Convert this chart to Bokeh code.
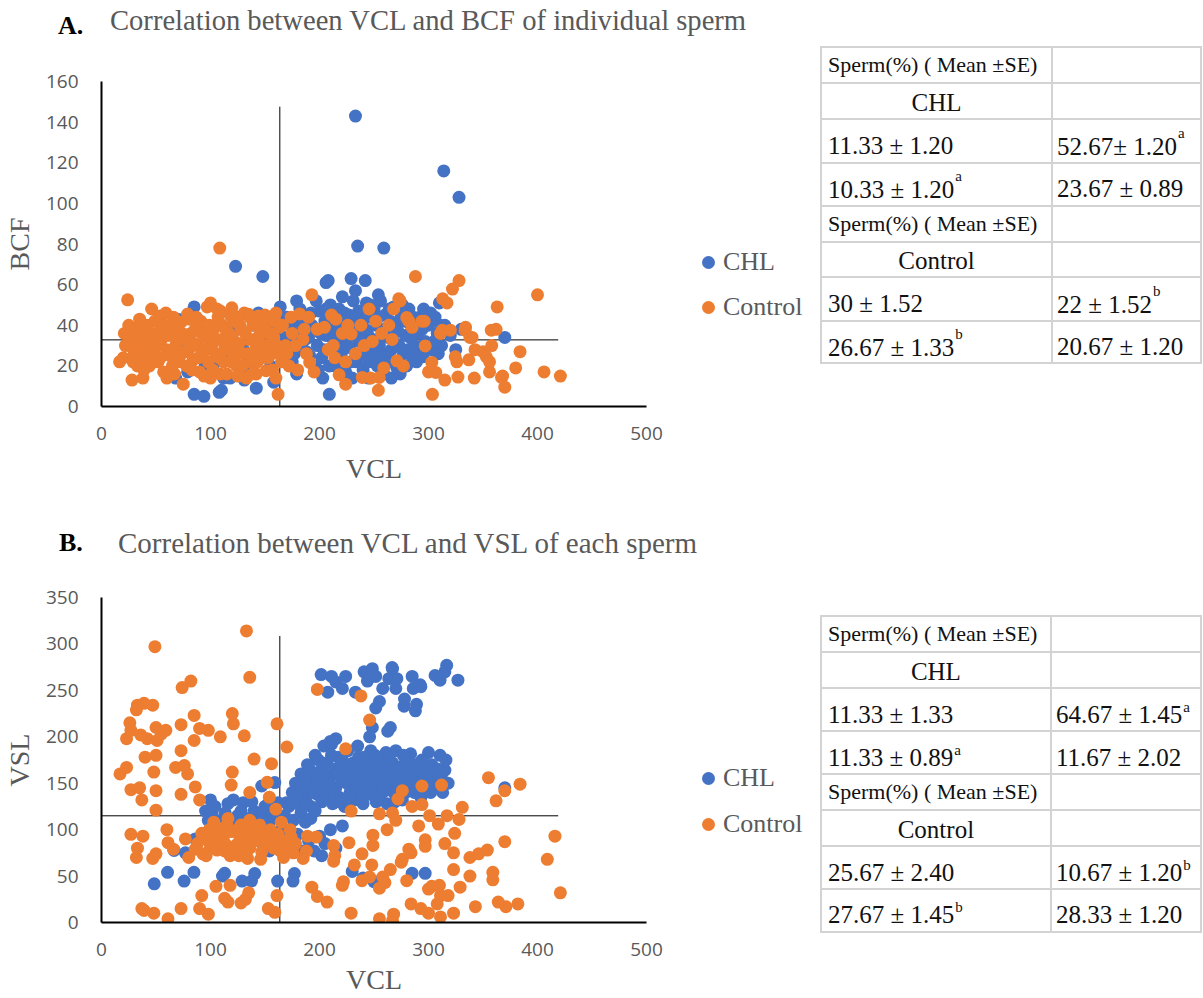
from bokeh.plotting import figure
from bokeh.models import Range1d, SingleIntervalTicker, Div
from bokeh.layouts import column, row
from bokeh.embed import file_html
from bokeh.resources import INLINE

# ---------------- Panel A: VCL vs BCF of individual sperm ----------------
chl_a = [
    (233, 143), (314, 116), (328, 103), (235, 79), (259, 78), (123, 69), (148, 64),
    (206, 61), (208, 62), (229, 63), (242, 62), (233, 57), (254, 55), (221, 54), (179, 52),
    (85, 6), (94, 5), (108, 7), (110, 8), (142, 9), (209, 6),
    (70, 43), (85, 49), (79, 17), (68, 14), (112, 14), (118, 14), (131, 13), (144, 46),
    (164, 49), (158, 12), (90, 40), (100, 30), (105, 22), (120, 36), (130, 28), (140, 40),
    (150, 33), (155, 20), (95, 20), (125, 44), (135, 18), (145, 26), (115, 25), (160, 38), (75, 30),
    (170, 44), (172, 30), (175, 22), (178, 36), (179, 16), (182, 48), (185, 40), (188, 27),
    (190, 34), (192, 46), (195, 20), (196, 38), (198, 30), (200, 47), (202, 24), (203, 14),
    (205, 42), (206, 35), (208, 28), (210, 50), (212, 44), (214, 20), (215, 37), (217, 31),
    (218, 48), (220, 26), (222, 40), (224, 17), (225, 34), (227, 45), (228, 29), (230, 14),
    (231, 52), (232, 38), (234, 22), (236, 47), (237, 32), (239, 42), (240, 18), (241, 27),
    (243, 51), (244, 36), (245, 14), (246, 44), (248, 25), (249, 33), (250, 48), (252, 40),
    (253, 20), (255, 30), (256, 52), (258, 38), (259, 16), (260, 45), (262, 26), (263, 34),
    (265, 42), (266, 14), (267, 22), (268, 49), (270, 31), (272, 37), (274, 16), (275, 44),
    (277, 26), (279, 35), (280, 20), (282, 48), (284, 40), (285, 24.5), (287, 30), (290, 36),
    (292, 44), (295, 24.5), (295.5, 48), (297, 32), (300, 40), (303, 28), (306, 44), (308, 36),
    (310, 51), (312, 30), (315, 40), (320, 35), (325, 28), (330, 38), (370, 34),
    (183, 30), (186, 45), (191, 25), (193, 40), (197, 52), (199, 18), (201, 36), (204, 28),
    (206, 48), (209, 20), (211, 34), (213, 42), (216, 24), (219, 38), (221, 16), (223, 46),
    (226, 30), (229, 22), (233, 44), (235, 34), (238, 26), (242, 38), (245, 22), (247, 50),
    (251, 28), (254, 44), (257, 24), (261, 36), (264, 48), (266, 28), (269, 40), (271, 19),
    (273, 30), (276, 50), (278, 42), (281, 28), (283, 34), (286, 44), (289, 22), (291, 28),
    (294, 38), (299, 30), (302, 46), (305, 32), (309, 26), (311, 40),
    (168, 34), (173, 40), (177, 26), (181, 42), (187, 33),
]
ctl_a = [
    (16.6, 22), (20, 24), (21, 36), (24, 52.5), (25, 40), (26, 30), (28, 13), (28, 34),
    (30, 26), (32, 38), (33, 20), (35, 43), (36, 31), (38, 14), (38, 24), (40, 36), (42, 40),
    (44, 20), (45, 32), (46, 48), (48, 27), (50, 36), (52, 22), (53.5, 44.5), (54, 24), (55, 33),
    (58, 40), (60, 14), (60, 28), (62, 35), (65, 20), (66, 44), (68, 30), (70, 38), (72, 25),
    (73, 41.5), (75, 11), (76, 33), (78, 20), (79, 45.5), (80, 28), (82, 36), (84, 23), (86, 38),
    (88, 30), (90, 17), (91, 42), (93, 26), (95, 34), (97, 49), (98, 22), (100, 51), (100, 14),
    (101, 30), (103, 38), (105, 26), (107, 44), (108.5, 78), (109, 47), (109, 16), (110, 33),
    (112, 22), (114, 38), (116, 28), (118, 45), (119.6, 48.6), (120, 34), (122, 24), (124, 43.8),
    (124, 20), (126, 31), (128, 38), (130, 26), (131, 46), (133, 14), (134.8, 45.4), (135, 33),
    (137, 22), (139, 40), (141, 28), (142, 16), (144, 44.6), (145, 35), (147, 24), (149, 38),
    (151, 17.6), (152, 30), (155, 42), (156, 26), (158, 34), (160, 46), (160, 14), (162, 6),
    (163, 39), (165, 22), (169, 30), (172, 20), (175, 36), (181.8, 45.6), (184.8, 33), (188, 26),
    (191, 21.7), (193, 55), (195, 17), (198, 38), (204.5, 39), (208, 28), (211, 45), (212.7, 30),
    (214, 24), (215, 43), (218, 15.6), (221, 36), (224, 11), (224, 22), (226, 40), (229, 35.7),
    (233, 26), (238, 40), (239.3, 14.3), (241, 30), (245.5, 48), (247, 14), (248.5, 32),
    (251.6, 42), (254, 8), (254.8, 14.3), (257, 36), (259, 19), (263.6, 40), (266.6, 33),
    (268, 48), (271, 22.5), (272.7, 53), (274, 52), (277, 20), (280, 43.8), (282, 42), (285, 39),
    (288, 64), (294, 42), (296, 42), (297, 29.8), (300, 17), (303, 21.7), (303.6, 6),
    (306.7, 16.8), (311, 36), (312.7, 37.6), (313, 53), (315, 13), (317, 51), (320, 37.6),
    (322, 57.8), (324.5, 24.5), (326, 22), (327, 14.5), (328, 62), (333.6, 37.6), (334, 39),
    (337, 23), (338, 34), (340, 34), (342, 14), (342.7, 28), (350, 27), (353, 24.5), (356, 22),
    (356, 17), (357.6, 37.6), (358, 30), (362, 38), (363, 49), (367, 14.3), (368, 15),
    (370, 9.5), (380, 19), (384, 27), (400, 55), (406, 17), (421, 15),
    (22, 30), (27, 37), (29, 22), (31, 33), (34, 28), (37, 40), (39, 18), (41, 29), (43, 37),
    (47, 24), (49, 42), (51, 30), (56, 38), (57, 17), (59, 46), (63, 25), (64, 40), (67, 16),
    (69, 34), (71, 22), (74, 36), (77, 27), (81, 43), (83, 18), (85, 31), (87, 44), (89, 24),
    (92, 36), (94, 15), (96, 28), (99, 40), (102, 18), (104, 33), (106, 48), (108, 24), (111, 40),
    (113, 30), (115, 16), (117, 36), (119, 22), (121, 42), (123, 30), (125, 15), (127, 40),
    (129, 20), (132, 36), (134, 26), (136, 44), (138, 16), (140, 33), (143, 22), (146, 40),
    (148, 30), (150, 45), (153, 24), (154, 36), (157, 18), (159, 42), (161, 30), (164, 26),
    (166, 40), (170, 26), (174, 44), (178, 30), (180, 18), (186, 38), (190, 44),
]

# ---------------- Panel B: VCL vs VSL of each sperm ----------------
chl_b = [
    (48.4, 41.6), (60.6, 54), (75.8, 44.6), (84.8, 54), (111, 50), (113, 53), (129, 44.6),
    (137.6, 44.6), (140.6, 52.7), (161.6, 44.6), (177, 52.7), (175.7, 44.6),
    (66.6, 77.6), (77, 75), (86, 90), (95.5, 120), (100, 132), (101.5, 118.6), (105, 110),
    (110, 100), (113.5, 118), (121, 132), (125, 115), (130, 129), (135, 105), (140, 120),
    (147, 147), (150, 125), (155, 110), (159, 150.7), (162, 129), (165, 100), (169.6, 129),
    (154, 77), (172.7, 83), (184.8, 77), (195, 77), (202, 72), (200, 93), (210, 100), (221, 104),
    (180, 95), (190, 88), (205, 85), (215, 80),
    (175, 140), (178, 150), (180, 128), (183, 160), (185, 135), (187, 145), (189, 170), (190, 155),
    (192, 125), (195, 148), (196, 180), (198, 138), (200, 162), (202, 130), (204, 190), (205, 150),
    (207, 172), (208, 140), (210, 158), (211, 192), (212, 128), (214, 165), (215, 145), (217, 178),
    (218, 135), (220, 155), (222, 168), (223, 125), (225, 150), (226, 185), (228, 140), (229, 160),
    (231, 172), (232, 132), (234, 155), (235, 190), (237, 145), (238, 165), (240, 128), (241, 178),
    (243, 150), (244, 160), (246, 138), (247, 185), (249, 155), (250, 168), (252, 130), (253, 148),
    (255, 175), (256, 160), (258, 140), (259, 152), (261, 183), (262, 128), (264, 165), (265, 150),
    (267, 172), (268, 140), (270, 185), (271, 158), (273, 145), (275, 168), (276, 132), (278, 155),
    (280, 175), (281, 148), (283.6, 181.6), (283.6, 149), (285, 160), (287, 140), (289, 170),
    (291, 152), (293, 135), (295, 165), (297, 165), (298, 150), (300, 183), (302, 140), (305, 158),
    (308, 148), (310.6, 180), (312, 155), (315, 164), (318, 150), (370, 145),
    (285, 53), (297, 53), (240, 48), (250, 44), (230, 55),
    (201.5, 267), (211, 265), (207.6, 248), (215, 259), (224, 265), (221, 252), (233, 248),
    (240.9, 270), (248.5, 273.4), (244, 260), (251.6, 265), (258, 252), (255, 238), (251.6, 231),
    (267, 273), (263.6, 262.6), (271, 262.6), (270, 252), (277.6, 233), (288, 228), (285, 265),
    (286, 252), (293, 254), (266.6, 274.5), (292.4, 256), (306, 266), (310.6, 261), (316.7, 277),
    (315, 270), (327, 261), (278, 240.6), (289, 235), (248.5, 210), (262.6, 206), (265, 210),
    (246, 200), (210, 195), (215, 198),
    (182, 140), (186, 155), (188, 130), (191, 165), (194, 140), (197, 158), (199, 175), (201, 145),
    (203, 168), (206, 135), (209, 150), (211, 180), (213, 142), (216, 160), (219, 130), (221, 175),
    (224, 158), (227, 135), (230, 165), (233, 148), (236, 178), (239, 138), (242, 158), (245, 170),
    (248, 145), (251, 180), (254, 135), (257, 165), (260, 145), (263, 175), (266, 158), (269, 130),
    (272, 165), (274, 150), (277, 180), (279, 140), (282, 162), (284, 170), (288, 155), (290, 145),
    (294, 175), (296, 140), (299, 160), (303, 170), (306, 150), (309, 165), (313, 140), (316, 175),
    (168, 115), (172, 125), (176, 110), (179, 135), (183, 118), (187, 108), (192, 112), (196, 120),
    (98, 110), (104, 125), (108, 105), (116, 128), (123, 108), (128, 120), (133, 112), (138, 130),
    (143, 110), (148, 118), (153, 128), (157, 115),
]
ctl_b = [
    (133, 314), (49, 297), (136, 264), (74, 253), (82, 260), (33, 234), (39, 236), (47, 234),
    (32, 229), (85, 223), (120, 225), (121, 214), (73, 213), (23, 198), (26, 215), (27, 207),
    (36, 202), (42, 198), (50, 210), (55, 203), (59, 207), (51, 196), (90, 209), (98, 207),
    (109, 200), (131, 201), (85, 196), (161, 214), (170, 189), (140, 176), (156, 171), (73, 185),
    (50, 180), (40, 178), (17, 160), (23, 167), (68, 167), (76, 169), (79, 160), (48, 162),
    (86, 146), (120, 162), (27, 143), (35, 145), (50, 142), (37, 132), (50, 121), (73, 138),
    (90, 132), (119, 148), (136, 140), (152, 151), (154, 135), (160, 122),
    (27, 95), (38, 93), (33, 80), (32, 70), (50, 74), (47, 69), (60, 100), (61, 86), (66, 79),
    (77, 90), (86, 79), (80, 70), (93, 74), (99, 100), (105, 86), (113, 77), (124, 84), (130, 74),
    (134, 69), (142, 93), (148, 84), (157, 87), (164, 77), (167, 70), (173, 100), (176, 75),
    (185, 69), (188, 77), (189, 93), (197, 92), (95, 95), (100, 80), (108, 95), (115, 105),
    (120, 98), (127, 92), (138, 100), (145, 105), (152, 97), (165, 108), (103, 108), (112, 88),
    (118, 72), (128, 105),
    (88, 85), (92, 96), (96, 72), (98, 88), (102, 95), (106, 78), (110, 92), (114, 84), (117, 98),
    (121, 80), (125, 100), (129, 86), (133, 95), (136, 80), (140, 88), (144, 96), (147, 76),
    (150, 90), (155, 100), (158, 80), (162, 95), (166, 88), (170, 82), (174, 92), (178, 85),
    (106, 102), (116, 112), (126, 72), (136, 110), (146, 68),
    (193, 38), (198, 28), (207, 22), (213, 83), (214, 72), (213, 66), (227, 86), (232, 62),
    (239, 74), (248, 62), (249, 83), (239, 45), (246, 49), (258, 49), (221, 40), (222, 44),
    (229, 10), (255, 4), (267, 2), (255, 37), (249, 94), (255, 117), (229, 120), (267, 118),
    (272, 133), (275, 65), (198, 251), (238, 244), (246, 218), (224, 187),
    (37, 15), (39, 13), (48, 10), (61, 4), (73, 15), (90, 15), (98, 9), (92, 29), (105, 39),
    (113, 26), (116, 22), (118, 40), (128, 21), (132, 25), (135, 32), (153, 15), (159, 11), (161, 29),
    (355, 156), (384, 149), (370, 142), (362, 131), (331, 124), (312, 148), (294, 147), (276, 142),
    (294, 127), (301, 115), (317, 115), (309, 106), (328, 111), (291, 104), (324, 96), (297, 89),
    (297, 82), (315, 85), (323, 75), (338, 70), (346, 74), (354, 78), (370, 87), (416, 93),
    (409, 68), (359, 54), (359, 46), (338, 50), (329, 38), (323, 57), (284, 75), (282, 79),
    (276, 68), (265, 57), (260, 43), (280, 45), (284, 20), (293, 15), (300, 10), (311, 6),
    (323, 10), (268, 9), (308, 20), (300, 36), (303, 39), (310, 40), (318, 29), (311, 29),
    (343, 17), (364, 22), (371, 17), (382, 20), (421, 32), (270, 110), (262, 100), (285, 125),
]

# quadrant reference lines: (VCL cut, top of VCL line, y cut, right end of y line)
cuts_a = (163.6, 147.6, 32.8, 419)
cuts_b = (163.6, 308.6, 114.9, 419)

x_max, x_step = 500, 100
a_y_max, a_y_step = 160, 20
b_y_max, b_y_step = 350, 50

series_names = ["CHL", "Control"]

# table rows: (left text, left superscript, right text, right superscript)
table_a = [
    ("Sperm(%) ( Mean ±SE)", "", "", ""),
    ("CHL", "", "", ""),
    ("11.33 ± 1.20", "", "52.67± 1.20", "a"),
    ("10.33 ± 1.20", "a", "23.67 ± 0.89", ""),
    ("Sperm(%) ( Mean ±SE)", "", "", ""),
    ("Control", "", "", ""),
    ("30 ± 1.52", "", "22 ± 1.52", "b"),
    ("26.67 ± 1.33", "b", "20.67 ± 1.20", ""),
]
table_b = [
    ("Sperm(%) ( Mean ±SE)", "", "", ""),
    ("CHL", "", "", ""),
    ("11.33 ± 1.33", "", "64.67 ± 1.45", "a"),
    ("11.33 ± 0.89", "a", "11.67 ± 2.02", ""),
    ("Sperm(%) ( Mean ±SE)", "", "", ""),
    ("Control", "", "", ""),
    ("25.67 ± 2.40", "", "10.67 ± 1.20", "b"),
    ("27.67 ± 1.45", "b", "28.33 ± 1.20", ""),
]

BLUE = "#4472C4"
ORANGE = "#ED7D31"
GREY = "#595959"
SERIF = "Liberation Serif"
SANS = "Open Sans"
PAGE_W = 1203
FIG_W, BORDER_L, BORDER_R = 690, 97, 44
SIDE_W = PAGE_W - FIG_W
SERIES_COLORS = [BLUE, ORANGE]


def scatter_panel(height, top, bottom, y_max, y_step, y_title, chl, ctl, cuts, xlabel_gap):
    p = figure(width=FIG_W, height=height, x_range=Range1d(0, x_max), y_range=Range1d(0, y_max),
               output_backend="svg", toolbar_location=None,
               min_border_left=BORDER_L, min_border_right=BORDER_R,
               min_border_top=top, min_border_bottom=bottom)
    p.outline_line_color = None
    p.grid.visible = False
    p.xaxis.ticker = SingleIntervalTicker(interval=x_step)
    p.yaxis.ticker = SingleIntervalTicker(interval=y_step)
    p.xaxis.axis_label = "VCL"
    p.yaxis.axis_label = y_title
    for ax in (p.xaxis[0], p.yaxis[0]):
        ax.axis_line_color = "#000000"
        ax.axis_line_width = 2
        ax.major_tick_line_color = None
        ax.minor_tick_line_color = None
        ax.major_tick_out = 0
        ax.major_tick_in = 0
        ax.major_label_text_font = SANS
        ax.major_label_text_font_size = "19px"
        ax.major_label_text_color = GREY
        ax.axis_label_text_font = SERIF
        ax.axis_label_text_font_size = "28px"
        ax.axis_label_text_font_style = "normal"
        ax.axis_label_text_color = GREY
    p.xaxis.major_label_standoff = 16
    p.xaxis.axis_label_standoff = xlabel_gap
    p.yaxis.major_label_standoff = 19
    p.yaxis.axis_label_standoff = 8

    # quadrant lines
    vx, vtop, hy, hend = cuts
    p.segment(x0=[vx, 0], y0=[0, hy], x1=[vx, hend], y1=[vtop, hy],
              line_color="#000000", line_width=1)

    p.scatter([v[0] for v in chl], [v[1] for v in chl], size=13,
              fill_color=SERIES_COLORS[0], line_color=None)
    p.scatter([v[0] for v in ctl], [v[1] for v in ctl], size=13,
              fill_color=SERIES_COLORS[1], line_color=None)
    return p


def baseline_top(baseline, size):
    # top of a line box (line-height == font size) whose baseline sits at `baseline`
    return baseline - 0.8375 * size


def text_box(x, baseline, size, text, color="#111111", weight="normal", center=False, extra=""):
    shift = "transform:translateX(-50%);" if center else ""
    return (f'<div style="position:absolute;left:{x:.1f}px;top:{baseline_top(baseline, size):.1f}px;'
            f'font-family:\'{SERIF}\';font-size:{size}px;line-height:{size}px;font-weight:{weight};'
            f'white-space:nowrap;color:{color};{shift}">{text}{extra}</div>')


def heading_div(height, letter, letter_pos, title, title_size, title_pos):
    html = ('<div style="position:relative;width:%dpx;height:%dpx;">' % (PAGE_W, height)
            + text_box(letter_pos[0], letter_pos[1], 26, letter, "#000000", "bold")
            + text_box(title_pos[0], title_pos[1], title_size, title, GREY)
            + '</div>')
    return Div(text=html, width=PAGE_W, height=height, margin=(0, 0, 0, 0))


def side_div(height, page_top, legend_y, bounds, rows, col_x, mid_x, sup_raise):
    """Legend and summary table to the right of a scatter panel (page pixel geometry)."""
    x0 = FIG_W
    left, right, mid = 821 - x0, 1201 - x0, mid_x - x0
    ys = [b - page_top for b in bounds]
    line = "#D3D3D3"
    parts = ['<div style="position:relative;width:%dpx;height:%dpx;">' % (SIDE_W, height)]

    # legend
    for name, colr, cy in zip(series_names, SERIES_COLORS, legend_y):
        cy = cy - page_top
        parts.append(f'<div style="position:absolute;left:{708 - x0 - 6.5:.1f}px;top:{cy - 6.5:.1f}px;'
                     f'width:13px;height:13px;border-radius:50%;background:{colr};"></div>')
        parts.append(text_box(723 - x0, cy + 9, 26, name, GREY))

    # table grid
    for y in ys:
        parts.append(f'<div style="position:absolute;left:{left - 1}px;top:{y - 1:.1f}px;'
                     f'width:{right - left + 2}px;height:2px;background:{line};"></div>')
    for x in (left, mid, right):
        parts.append(f'<div style="position:absolute;left:{x - 1:.1f}px;top:{ys[0] - 1:.1f}px;'
                     f'width:2px;height:{ys[-1] - ys[0] + 2:.1f}px;background:{line};"></div>')
    cx = [c - x0 for c in col_x]
    for i, (lt, ls, rt, rs) in enumerate(rows):
        bottom = ys[i + 1]
        if lt.startswith("Sperm"):
            parts.append(text_box(cx[0], bottom - 10.5, 22, lt))
        elif rt == "":
            parts.append(text_box((left + mid) / 2, bottom - 8, 25, lt, center=True))
        else:
            base = bottom - 8.5
            for x, txt, sp in ((cx[0], lt, ls), (cx[1], rt, rs)):
                sup = ""
                if sp:
                    sup = (f'<span style="font-size:15px;line-height:0;'
                           f'vertical-align:{sup_raise}px;margin-left:1px;">{sp}</span>')
                parts.append(text_box(x, base, 25, txt, extra=sup))
    parts.append('</div>')
    return Div(text="".join(parts), width=SIDE_W, height=height, margin=(0, 0, 0, 0))


# Panel A occupies page rows 0-500, panel B 500-998
head_a = heading_div(47, "A.", (58, 35),
                     "Correlation between VCL and BCF of individual sperm", 28.6, (110, 30.7))
fig_a = scatter_panel(453, 34, 94, a_y_max, a_y_step, "BCF", chl_a, ctl_a, cuts_a, 10)
side_a = side_div(453, 47, (262, 307),
                  [47, 83.3, 119.3, 162.7, 205.7, 241.7, 277.3, 320.7, 363.3],
                  table_a, (828, 1057), 1052, 17)

head_b = heading_div(70, "B.", (59, 51.7),
                     "Correlation between VCL and VSL of each sperm", 29, (118, 53))
fig_b = scatter_panel(428, 27, 76, b_y_max, b_y_step, "VSL", chl_b, ctl_b, cuts_b, 5)
side_b = side_div(428, 570, (778, 824),
                  [616, 651.7, 687.7, 731, 774, 810, 846, 889.3, 931.7],
                  table_b, (828, 1056), 1050.7, 11)

layout = column(head_a, row(fig_a, side_a), head_b, row(fig_b, side_b))
open("out.html", "w").write(file_html(layout, INLINE))
